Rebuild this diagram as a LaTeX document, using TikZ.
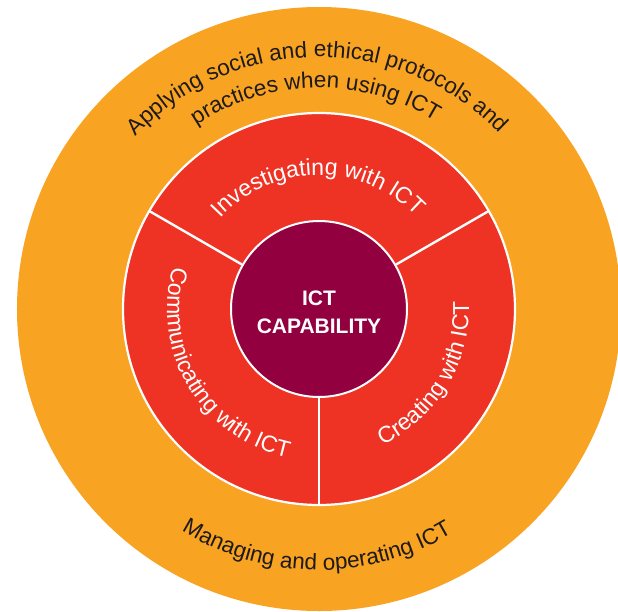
\documentclass[tikz,border=0pt]{standalone}
\usepackage{fontspec}
\setmainfont{Liberation Sans}
\usetikzlibrary{decorations.text}
\definecolor{ringorange}{HTML}{F8A321}
\definecolor{ringred}{HTML}{EE3224}
\definecolor{corecrimson}{HTML}{920040}
\definecolor{inkdark}{HTML}{1E1A1A}
\newcommand\ringfont{\fontsize{23}{27}\selectfont\color{white}}
\newcommand\outerfont{\fontsize{22.5}{27}\selectfont\color{inkdark}}
\tikzset{
  outerdisc/.style={circle, fill=ringorange, minimum size=604pt, inner sep=0pt},
  reddisc/.style={circle, fill=ringred, draw=white, line width=2.2pt, minimum size=392pt, inner sep=0pt},
  coredisc/.style={circle, fill=corecrimson, draw=white, line width=2pt, minimum size=176pt, inner sep=0pt},
  divider/.style={draw=white, line width=2.4pt},
  coretext/.style={text=white, font=\fontsize{21}{26}\selectfont\bfseries, anchor=base, inner sep=0pt},
  curvedtext/.style={decorate, decoration={text along path, text align=center, text={#1}}}
}
\begin{document}
\begin{tikzpicture}[x=1pt,y=1pt]
\useasboundingbox (-319,-302) rectangle (299,309);
\fill[white] (-319,-302) rectangle (299,309);
\node[outerdisc] (outer) at (0,0) {};
\node[reddisc] (ring) at (0,0) {};
\node[coredisc] (core) at (0,0) {};
% dividers
\coordinate (d1) at (150:196pt);
\coordinate (d2) at (30:196pt);
\coordinate (d3) at (270:196pt);
\draw[divider] (core.150) -- (d1);
\draw[divider] (core.30) -- (d2);
\draw[divider] (core.270) -- (d3);
% core text
\node[coretext] (ict) at (0,4) {ICT};
\node[coretext] (cap) at (0,-24) {CAPABILITY};
% ring texts
\path[curvedtext={|\ringfont|Investigating with ICT}]
  (150.5:134pt) arc[start angle=150.5, end angle=30.5, radius=134pt];
\path[curvedtext={|\ringfont|Creating with ICT}]
  (-91:150pt) arc[start angle=-91, end angle=29, radius=150pt];
\path[curvedtext={|\ringfont|Communicating with ICT}]
  (151:152pt) arc[start angle=151, end angle=271, radius=152pt];
% outer texts
\path[curvedtext={|\outerfont|Applying social and ethical protocols and}]
  (175.5:252pt) arc[start angle=175.5, end angle=5.5, radius=252pt];
\path[curvedtext={|\outerfont|practices when using ICT}]
  (166:221pt) arc[start angle=166, end angle=16, radius=221pt];
\path[curvedtext={|\outerfont|Managing and operating ICT}]
  (199.5:261pt) arc[start angle=199.5, end angle=339.5, radius=261pt];
\end{tikzpicture}
\end{document}
